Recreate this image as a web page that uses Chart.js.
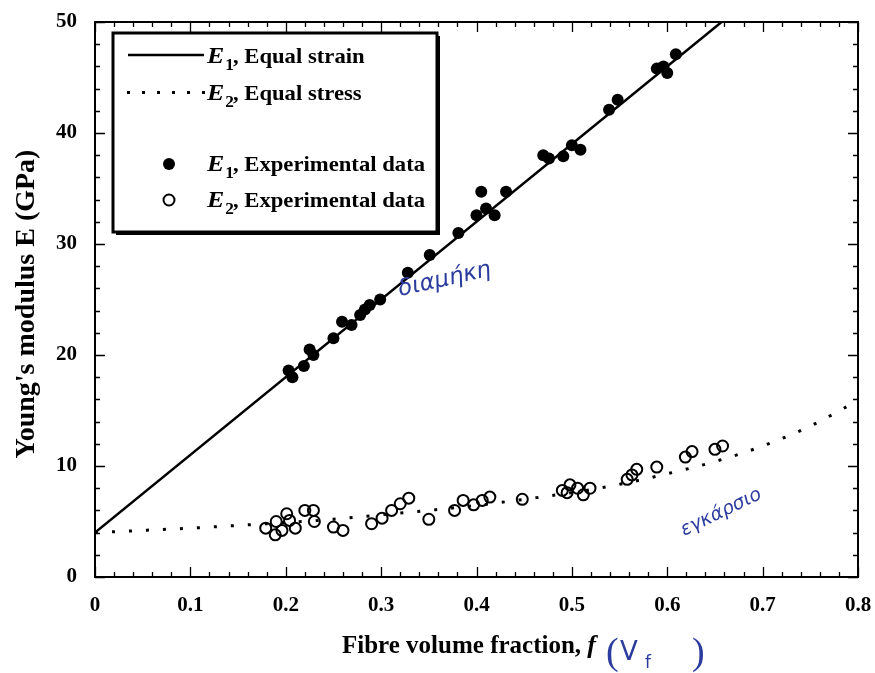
<!DOCTYPE html>
<html>
<head>
<meta charset="utf-8">
<script src="https://cdn.jsdelivr.net/npm/chart.js@4.4.1/dist/chart.umd.min.js"></script>
<style>
  html,body{margin:0;padding:0;background:#fff;}
  #wrap{position:relative;width:875px;height:673px;}
  canvas{display:block;}
</style>
</head>
<body>
<div id="wrap"><canvas id="c" width="875" height="673"></canvas></div>
<script>
// ---- data ----
const strainF = [0, 0.657];
const strainE = [4, 50];

const stressF = [0, 0.05, 0.1, 0.15, 0.2, 0.25, 0.3, 0.35, 0.4, 0.45, 0.5, 0.55, 0.6, 0.65, 0.7, 0.75, 0.8];
const stressE = [4.0, 4.2, 4.4, 4.65, 4.9, 5.2, 5.6, 6.0, 6.45, 7.0, 7.6, 8.35, 9.3, 10.4, 11.8, 13.6, 15.9];

const exp1F = [0.203, 0.207, 0.219, 0.225, 0.229, 0.25, 0.259, 0.269, 0.278, 0.283, 0.288, 0.299, 0.328, 0.351, 0.381,
               0.4, 0.41, 0.419, 0.405, 0.431, 0.47, 0.476, 0.491, 0.5, 0.509, 0.539, 0.548, 0.589, 0.596, 0.6, 0.609];
const exp1E = [18.6, 18.0, 19.0, 20.5, 20.0, 21.5, 23.0, 22.7, 23.6, 24.1, 24.5, 25.0, 27.4, 29.0, 31.0,
               32.6, 33.2, 32.6, 34.7, 34.7, 38.0, 37.7, 37.9, 38.9, 38.5, 42.1, 43.0, 45.8, 46.0, 45.4, 47.1];

const exp2F = [0.179, 0.189, 0.19, 0.196, 0.201, 0.204, 0.21, 0.22, 0.229, 0.23, 0.25, 0.26, 0.29, 0.301, 0.311, 0.32, 0.329, 0.35,
               0.377, 0.386, 0.397, 0.406, 0.414, 0.448, 0.49, 0.495, 0.498, 0.506, 0.512, 0.519,
               0.558, 0.563, 0.568, 0.589, 0.619, 0.626, 0.65, 0.658];
const exp2E = [4.4, 3.8, 5.0, 4.2, 5.7, 5.1, 4.4, 6.0, 6.0, 5.0, 4.5, 4.2, 4.8, 5.3, 6.0, 6.6, 7.1, 5.2,
               6.0, 6.9, 6.5, 6.9, 7.2, 7.0, 7.8, 7.6, 8.3, 8.0, 7.4, 8.0,
               8.8, 9.2, 9.7, 9.9, 10.8, 11.3, 11.5, 11.8];

const xTicks = [0, 0.1, 0.2, 0.3, 0.4, 0.5, 0.6, 0.7, 0.8];
const yTicks = [0, 10, 20, 30, 40, 50];

const SERIF = '"Liberation Serif", "DejaVu Serif", serif';
const BLUE = '#2c3c9e';

const pts = (xs, ys) => xs.map((x, i) => ({x: x, y: ys[i]}));

// draw text made of several styled parts, with horizontal stretch sx
function rich(ctx, x, y, parts, sx) {
  sx = sx || 1;
  ctx.save();
  ctx.translate(x, y);
  ctx.scale(sx, 1);
  let cx = 0;
  for (const p of parts) {
    ctx.font = p.font;
    ctx.fillStyle = p.color || '#000';
    ctx.fillText(p.t, cx, (p.dy || 0));
    cx += ctx.measureText(p.t).width + (p.gap || 0);
  }
  ctx.restore();
  return x + cx * sx;
}

const decor = {
  id: 'decor',
  afterDatasetsDraw(chart) {
    const ctx = chart.ctx;
    const a = chart.chartArea;
    const xs = chart.scales.x, ys = chart.scales.y;
    ctx.save();
    // frame
    ctx.strokeStyle = '#000';
    ctx.lineWidth = 2;
    ctx.strokeRect(a.left, a.top, a.right - a.left, a.bottom - a.top);
    // inward ticks
    ctx.lineWidth = 1.3;
    ctx.beginPath();
    for (let i = 0; i <= 40; i++) {
      const px = Math.round(xs.getPixelForValue(i * 0.02)) + 0.5;
      const L = i % 5 === 0 ? 10 : 5;
      ctx.moveTo(px, a.bottom); ctx.lineTo(px, a.bottom - L);
      ctx.moveTo(px, a.top); ctx.lineTo(px, a.top + L);
    }
    for (let i = 0; i <= 25; i++) {
      const py = Math.round(ys.getPixelForValue(i * 2)) + 0.5;
      const L = i % 5 === 0 ? 10 : 5;
      ctx.moveTo(a.left, py); ctx.lineTo(a.left + L, py);
      ctx.moveTo(a.right, py); ctx.lineTo(a.right - L, py);
    }
    ctx.stroke();

    // legend box
    const bx = 113, by = 33, bw = 324, bh = 199;
    ctx.fillStyle = '#fff';
    ctx.fillRect(bx, by, bw, bh);
    ctx.fillStyle = '#000';
    ctx.fillRect(bx + 3, by + bh, bw, 3);
    ctx.fillRect(bx + bw, by + 3, 3, bh);
    ctx.lineWidth = 3;
    ctx.strokeRect(bx, by, bw, bh);

    // legend samples
    ctx.lineWidth = 2.5;
    ctx.beginPath(); ctx.moveTo(128, 55); ctx.lineTo(204, 55); ctx.stroke();
    for (let i = 0; i < 6; i++) ctx.fillRect(127 + i * 15, 91, 3, 3);
    ctx.beginPath(); ctx.arc(169, 164, 6, 0, Math.PI * 2); ctx.fill();
    ctx.lineWidth = 2;
    ctx.beginPath(); ctx.arc(169, 200, 5.5, 0, Math.PI * 2); ctx.stroke();

    const fE = 'italic bold 24px ' + SERIF;
    const fS = 'bold 16px ' + SERIF;
    const fT = 'bold 21px ' + SERIF;
    ctx.textBaseline = 'alphabetic';
    ctx.textAlign = 'left';
    const legendRows = [
      {y: 63, sub: '1', txt: ', Equal strain'},
      {y: 100, sub: '2', txt: ', Equal stress'},
      {y: 171, sub: '1', txt: ', Experimental data'},
      {y: 207, sub: '2', txt: ', Experimental data'}
    ];
    for (const r of legendRows) {
      rich(ctx, 207, r.y, [
        {t: 'E', font: fE, gap: 1},
        {t: r.sub, font: fS, dy: 7, gap: -1},
        {t: r.txt, font: fT}
      ], 1.08);
    }

    // y-axis title
    ctx.save();
    ctx.translate(34, 304);
    ctx.rotate(-Math.PI / 2);
    ctx.font = 'bold 28px ' + SERIF;
    ctx.textAlign = 'center';
    ctx.fillStyle = '#000';
    ctx.fillText("Young's modulus E (GPa)", 0, 0);
    ctx.restore();

    // x-axis title
    ctx.textAlign = 'left';
    rich(ctx, 342, 653, [
      {t: 'Fibre volume fraction, ', font: 'bold 25px ' + SERIF},
      {t: 'f', font: 'italic bold 26px ' + SERIF}
    ]);
    // handwritten additions (blue)
    ctx.fillStyle = BLUE;
    ctx.font = '38px ' + SERIF;
    ctx.fillText('(', 606, 664);
    ctx.font = '26px "DejaVu Sans", sans-serif';
    ctx.fillText('V', 620, 660);
    ctx.font = '17px "DejaVu Sans", sans-serif';
    ctx.fillText('f', 645, 668);
    ctx.font = '38px ' + SERIF;
    ctx.fillText(')', 692, 664);

    ctx.save();
    ctx.translate(400, 296);
    ctx.rotate(-0.22);
    ctx.font = 'italic 23px "DejaVu Sans", sans-serif';
    ctx.fillText('διαμήκη', 0, 0);
    ctx.restore();

    ctx.save();
    ctx.translate(684, 536);
    ctx.rotate(-0.45);
    ctx.font = 'italic 19px "DejaVu Sans", sans-serif';
    ctx.fillText('εγκάρσιο', 0, 0);
    ctx.restore();

    ctx.restore();
  }
};

const tickFont = {family: SERIF, size: 21, weight: 'bold'};

new Chart(document.getElementById('c'), {
  type: 'scatter',
  data: {
    datasets: [
      {label: 'E1, Equal strain', type: 'line', data: pts(strainF, strainE), borderColor: '#000', borderWidth: 2.5,
       pointRadius: 0, fill: false, order: 3},
      {label: 'E2, Equal stress', type: 'line', data: pts(stressF, stressE), borderColor: '#000', borderWidth: 3,
       borderDash: [3, 14], pointRadius: 0, fill: false, cubicInterpolationMode: 'monotone', order: 4},
      {label: 'E1, Experimental data', data: pts(exp1F, exp1E), backgroundColor: '#000', borderColor: '#000',
       pointRadius: 6, borderWidth: 0, order: 1},
      {label: 'E2, Experimental data', data: pts(exp2F, exp2E), backgroundColor: 'rgba(0,0,0,0)', borderColor: '#000',
       pointRadius: 5.5, borderWidth: 2, order: 2}
    ]
  },
  options: {
    responsive: false,
    animation: false,
    layout: {padding: {top: 22, right: 17, left: 0, bottom: 0}},
    plugins: {legend: {display: false}, tooltip: {enabled: false}},
    scales: {
      x: {
        type: 'linear', min: 0, max: 0.8,
        afterBuildTicks: s => { s.ticks = xTicks.map(v => ({value: v})); },
        afterFit: s => { s.height = 96; s.paddingLeft = 0; s.paddingRight = 0; },
        grid: {display: false, drawTicks: false},
        border: {display: false},
        ticks: {font: tickFont, color: '#000', padding: 16, maxRotation: 0, autoSkip: false,
                callback: v => (Math.round(v * 10) / 10).toString()}
      },
      y: {
        type: 'linear', min: 0, max: 50,
        afterBuildTicks: s => { s.ticks = yTicks.map(v => ({value: v})); },
        afterFit: s => { s.width = 95; s.paddingTop = 0; s.paddingBottom = 0; },
        grid: {display: false, drawTicks: false},
        border: {display: false},
        ticks: {font: tickFont, color: '#000', padding: 18, autoSkip: false}
      }
    }
  },
  plugins: [decor]
});
</script>
</body>
</html>
